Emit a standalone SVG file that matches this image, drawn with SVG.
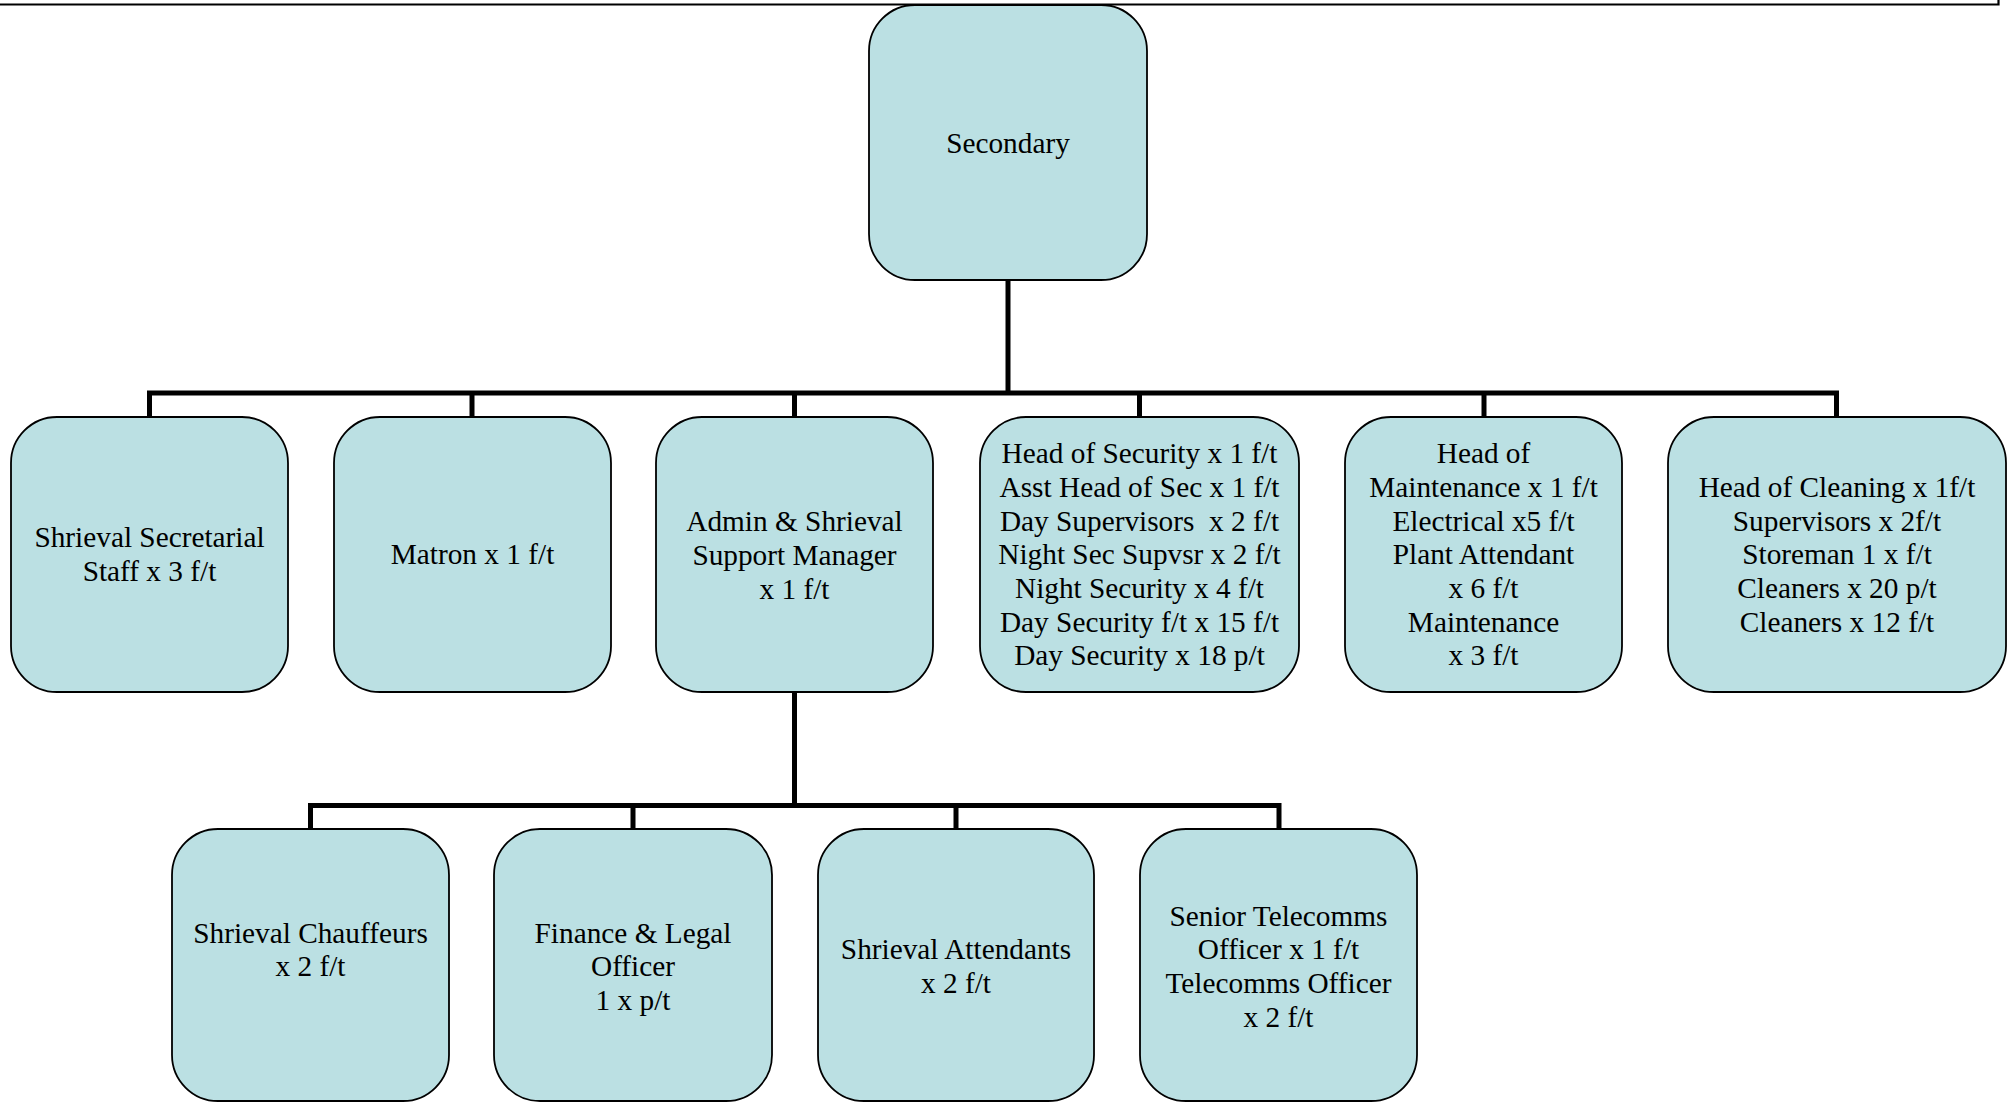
<svg xmlns="http://www.w3.org/2000/svg" width="2013" height="1103" viewBox="0 0 2013 1103">
<style>
.box{fill:#BBE0E3;stroke:#000;stroke-width:1.8}
.t{font-family:"Liberation Serif","Times New Roman",serif;font-size:29.3px;fill:#000;text-anchor:middle;white-space:pre}
.c{fill:none;stroke:#000;stroke-width:5;stroke-linecap:butt;stroke-linejoin:miter}
</style>
<rect x="0" y="0" width="2013" height="1103" fill="#fff"/>
<path d="M0,4.5 H1998.5 V0" fill="none" stroke="#000" stroke-width="2.2"/>
<g id="connectors">
<path class="c" d="M1008,280 V393"/>
<path class="c" d="M149.5,417 V393 H1836.5 V417"/>
<path class="c" d="M472,393 V417 M794.5,393 V417 M1139.5,393 V417 M1484,393 V417"/>
<path class="c" d="M794.5,692 V805.5"/>
<path class="c" d="M310.5,829 V805.5 H1279 V829"/>
<path class="c" d="M633,805.5 V829 M956,805.5 V829"/>
</g>
<g id="n-secondary">
<rect class="box" x="869" y="5" width="278" height="275" rx="46" ry="46"/>
<text class="t" x="1008" y="153">Secondary</text>
</g>
<g id="n-secretarial">
<rect class="box" x="11" y="417" width="277" height="275" rx="46" ry="46"/>
<text class="t" x="149.5" y="547">Shrieval Secretarial</text>
<text class="t" x="149.5" y="581">Staff x 3 f/t</text>
</g>
<g id="n-matron">
<rect class="box" x="334" y="417" width="277" height="275" rx="46" ry="46"/>
<text class="t" x="472.5" y="564">Matron x 1 f/t</text>
</g>
<g id="n-admin">
<rect class="box" x="656" y="417" width="277" height="275" rx="46" ry="46"/>
<text class="t" x="794.5" y="531">Admin &amp; Shrieval</text>
<text class="t" x="794.5" y="564.5">Support Manager</text>
<text class="t" x="794.5" y="598.5">x 1 f/t</text>
</g>
<g id="n-security">
<rect class="box" x="980" y="417" width="319" height="275" rx="46" ry="46"/>
<text class="t" x="1139.5" y="463">Head of Security x 1 f/t</text>
<text class="t" x="1139.5" y="497">Asst Head of Sec x 1 f/t</text>
<text class="t" x="1139.5" y="530.5" xml:space="preserve">Day Supervisors  x 2 f/t</text>
<text class="t" x="1139.5" y="564">Night Sec Supvsr x 2 f/t</text>
<text class="t" x="1139.5" y="598">Night Security x 4 f/t</text>
<text class="t" x="1139.5" y="631.5">Day Security f/t x 15 f/t</text>
<text class="t" x="1139.5" y="665">Day Security x 18 p/t</text>
</g>
<g id="n-maintenance">
<rect class="box" x="1345" y="417" width="277" height="275" rx="46" ry="46"/>
<text class="t" x="1483.5" y="463">Head of</text>
<text class="t" x="1483.5" y="497">Maintenance x 1 f/t</text>
<text class="t" x="1483.5" y="530.5">Electrical x5 f/t</text>
<text class="t" x="1483.5" y="564">Plant Attendant</text>
<text class="t" x="1483.5" y="598">x 6 f/t</text>
<text class="t" x="1483.5" y="631.5">Maintenance</text>
<text class="t" x="1483.5" y="665">x 3 f/t</text>
</g>
<g id="n-cleaning">
<rect class="box" x="1668" y="417" width="338" height="275" rx="46" ry="46"/>
<text class="t" x="1837" y="497">Head of Cleaning x 1f/t</text>
<text class="t" x="1837" y="530.5">Supervisors x 2f/t</text>
<text class="t" x="1837" y="564">Storeman 1 x f/t</text>
<text class="t" x="1837" y="598">Cleaners x 20 p/t</text>
<text class="t" x="1837" y="631.5">Cleaners x 12 f/t</text>
</g>
<g id="n-chauffeurs">
<rect class="box" x="172" y="829" width="277" height="272" rx="46" ry="46"/>
<text class="t" x="310.5" y="942.5">Shrieval Chauffeurs</text>
<text class="t" x="310.5" y="976">x 2 f/t</text>
</g>
<g id="n-finance">
<rect class="box" x="494" y="829" width="278" height="272" rx="46" ry="46"/>
<text class="t" x="633" y="942.5">Finance &amp; Legal</text>
<text class="t" x="633" y="976">Officer</text>
<text class="t" x="633" y="1010">1 x p/t</text>
</g>
<g id="n-attendants">
<rect class="box" x="818" y="829" width="276" height="272" rx="46" ry="46"/>
<text class="t" x="956" y="959">Shrieval Attendants</text>
<text class="t" x="956" y="993">x 2 f/t</text>
</g>
<g id="n-telecomms">
<rect class="box" x="1140" y="829" width="277" height="272" rx="46" ry="46"/>
<text class="t" x="1278.5" y="925.5">Senior Telecomms</text>
<text class="t" x="1278.5" y="959">Officer x 1 f/t</text>
<text class="t" x="1278.5" y="993">Telecomms Officer</text>
<text class="t" x="1278.5" y="1026.5">x 2 f/t</text>
</g>
</svg>
